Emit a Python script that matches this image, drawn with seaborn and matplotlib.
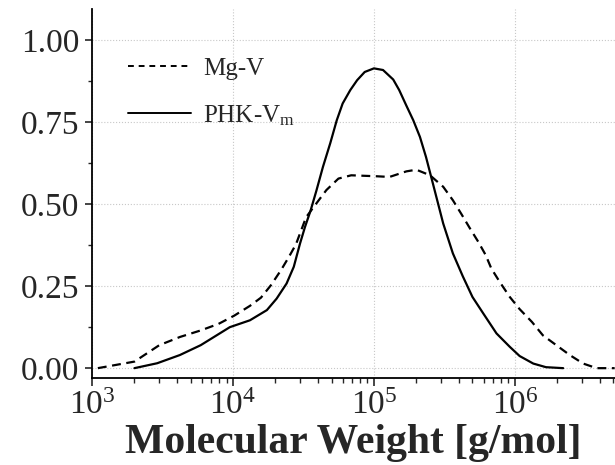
import numpy as np
import pandas as pd
import matplotlib
matplotlib.use("Agg")
import matplotlib.pyplot as plt
import seaborn as sns
from matplotlib.ticker import LogLocator, MultipleLocator, LogFormatterMathtext
from matplotlib.lines import Line2D

# ---- data ----
phk_mw = [2.0e3, 2.9e3, 4.2e3, 5.9e3, 9.5e3, 1.32e4, 1.74e4, 2.04e4, 2.4e4, 2.7e4,
          2.99e4, 3.24e4, 3.55e4, 3.9e4, 4.35e4, 4.9e4, 5.45e4, 6.0e4, 6.8e4, 7.6e4,
          8.6e4, 1.0e5, 1.16e5, 1.37e5, 1.51e5, 1.7e5, 1.9e5, 2.12e5, 2.34e5, 2.63e5,
          3.1e5, 3.63e5, 4.27e5, 5.0e5, 5.96e5, 7.4e5, 9.2e5, 1.08e6, 1.35e6, 1.66e6,
          2.2e6]
phk_val = [0.0, 0.015, 0.04, 0.07, 0.125, 0.146, 0.177, 0.212, 0.258, 0.309,
           0.38, 0.43, 0.48, 0.54, 0.614, 0.686, 0.756, 0.807, 0.848, 0.878,
           0.903, 0.914, 0.909, 0.88, 0.848, 0.80, 0.756, 0.705, 0.644, 0.56,
           0.441, 0.35, 0.28, 0.217, 0.167, 0.106, 0.065, 0.037, 0.014, 0.003,
           0.0]

mgv_mw = [1.1e3, 2.0e3, 2.45e3, 3.0e3, 4.2e3, 5.9e3, 7.9e3, 1.02e4, 1.32e4, 1.58e4,
          1.86e4, 2.2e4, 2.5e4, 2.8e4, 3.3e4, 3.9e4, 4.6e4, 5.6e4, 6.9e4, 1.05e5,
          1.29e5, 1.7e5, 2.0e5, 2.5e5, 3.1e5, 3.63e5, 4.17e5, 4.8e5, 5.5e5, 6.2e5,
          6.8e5, 7.8e5, 9.2e5, 1.08e6, 1.32e6, 1.58e6, 2.04e6, 2.45e6, 3.05e6, 3.8e6,
          5.1e6]
mgv_val = [0.0, 0.02, 0.045, 0.07, 0.095, 0.115, 0.135, 0.16, 0.19, 0.215,
           0.253, 0.30, 0.34, 0.378, 0.46, 0.502, 0.543, 0.578, 0.588, 0.585,
           0.583, 0.60, 0.605, 0.588, 0.553, 0.512, 0.47, 0.426, 0.385, 0.345,
           0.304, 0.263, 0.217, 0.18, 0.141, 0.10, 0.065, 0.04, 0.014, 0.0,
           0.0]

series_names = ["Mg-V", r"PHK-V$_\mathrm{m}$"]
y_ticks = [0.0, 0.25, 0.5, 0.75, 1.0]
x_label = "Molecular Weight [g/mol]"

df = pd.concat([
    pd.DataFrame({"mw": mgv_mw, "val": mgv_val, "sample": series_names[0]}),
    pd.DataFrame({"mw": phk_mw, "val": phk_val, "sample": series_names[1]}),
])

sns.set_style("white")
plt.rcParams["font.family"] = ["Liberation Serif", "DejaVu Serif"]
plt.rcParams["mathtext.fontset"] = "custom"
plt.rcParams["mathtext.rm"] = "Liberation Serif"
plt.rcParams["mathtext.it"] = "Liberation Serif:italic"
plt.rcParams["mathtext.bf"] = "Liberation Serif:bold"

fig = plt.figure(figsize=(6.15, 4.65), dpi=100)
ax = fig.add_axes([92/615, 1-378/465, 523/615, 369/465])

sns.lineplot(data=df, x="mw", y="val", style="sample", color="black",
             dashes={series_names[0]: (4, 2.5), series_names[1]: ""},
             linewidth=1.6, ax=ax, legend=False, sort=False)

ax.set_xscale("log")
ax.set_xlim(1e3, 10**6.71)
ax.set_ylim(-0.03, 1.095)

ax.set_yticks(y_ticks)
ax.set_yticklabels([f"{v:.2f}" for v in y_ticks])
ax.yaxis.set_minor_locator(MultipleLocator(0.125))
ax.xaxis.set_major_locator(LogLocator(base=10, numticks=10))
ax.xaxis.set_major_formatter(LogFormatterMathtext())
ax.xaxis.set_minor_locator(LogLocator(base=10, subs=np.arange(2, 10), numticks=20))

ax.grid(True, which="major", linestyle=":", color="#c8c8c8", linewidth=0.8)

for s in ["top", "right"]:
    ax.spines[s].set_visible(False)
for s in ["left", "bottom"]:
    ax.spines[s].set_color("black")
    ax.spines[s].set_linewidth(1.3)

ax.tick_params(axis="y", which="major", direction="out", length=5, width=1.2,
               labelsize=24, pad=4, left=True)
ax.tick_params(axis="y", which="minor", direction="out", length=3, width=1.0, left=True)
ax.tick_params(axis="x", which="major", direction="out", length=6, width=1.2,
               labelsize=24, pad=3, bottom=True)
ax.tick_params(axis="x", which="minor", direction="out", length=3.5, width=1.0, bottom=True)

ax.set_xlabel(x_label, fontsize=30, fontweight="bold", labelpad=2)
ax.set_ylabel("")

handles = [Line2D([], [], color="black", lw=1.4, dashes=(3, 2.5)),
           Line2D([], [], color="black", lw=1.4)]
leg = ax.legend(handles, series_names, loc="upper left", bbox_to_anchor=(0.05, 0.895),
                frameon=False, fontsize=18, handlelength=2.5, labelspacing=0.92,
                handletextpad=0.5, borderaxespad=0)

fig.savefig("out.png", dpi=100)
